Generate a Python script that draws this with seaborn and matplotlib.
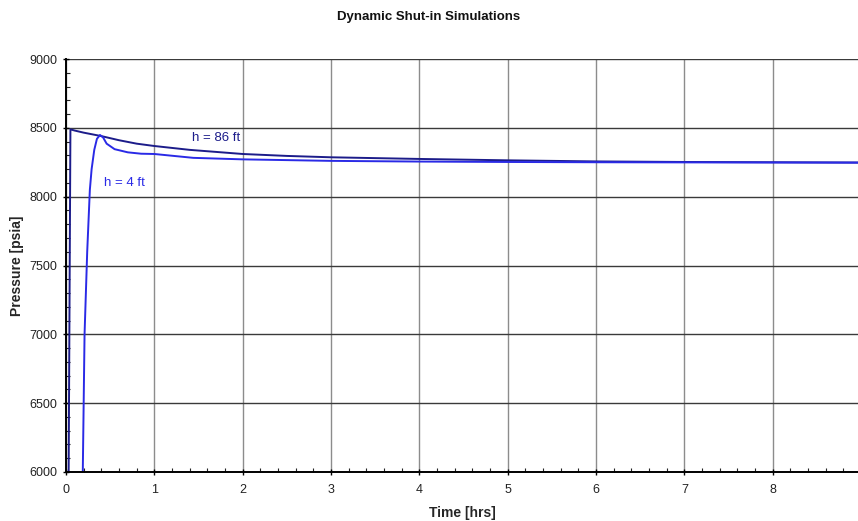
"""
Dynamic shut-in simulations: bottomhole pressure vs time for two pay thicknesses.
"""
import seaborn as sns
import matplotlib.pyplot as plt
from matplotlib.ticker import MultipleLocator

# curve for h = 86 ft
time_86 = [0.03, 0.05, 0.1, 0.2, 0.4, 0.6, 0.8, 1.0, 1.4, 2.0, 2.5, 3.0, 4.0, 5.0, 6.0, 7.0, 8.0, 8.97]
pres_86 = [6000, 8489, 8480, 8465, 8440, 8410, 8385, 8368, 8340, 8310, 8296, 8286, 8274, 8264, 8256, 8252, 8250, 8248]

# curve for h = 4 ft
time_4 = [0.19, 0.21, 0.24, 0.27, 0.29, 0.32, 0.35, 0.385, 0.42, 0.46, 0.55, 0.7, 0.85, 1.0,
          1.44, 2.0, 3.0, 4.0, 5.0, 6.0, 7.0, 8.0, 8.97]
pres_4 = [6000, 7000, 7600, 8050, 8200, 8340, 8420, 8448, 8430, 8385, 8345, 8322, 8312, 8310,
          8282, 8271, 8260, 8255, 8252, 8250, 8249, 8248, 8247]

curve_labels = ["h = 86 ft", "h = 4 ft"]
label_spots = [(1.70, 8428), (0.66, 8100)]
curve_colors = ["#1c1c8a", "#2a2ae6"]

sns.set_style("white")
plt.rcParams['font.family'] = ['Liberation Sans', 'DejaVu Sans']

fig = plt.figure(figsize=(8.58, 5.21), dpi=100)
ax = fig.add_axes([66 / 858, 1 - 472 / 521, 1 - 66 / 858, (472 - 59) / 521])

sns.lineplot(x=time_86, y=pres_86, ax=ax, color=curve_colors[0], linewidth=1.4, sort=False)
sns.lineplot(x=time_4, y=pres_4, ax=ax, color=curve_colors[1], linewidth=1.4, sort=False)

for text, (tx, ty), c in zip(curve_labels, label_spots, curve_colors):
    ax.text(tx, ty, text, color=c, fontsize=9.5, ha="center", va="center")

ax.set_xlim(0, 8.965)
ax.set_ylim(6000, 9000)
ax.xaxis.set_major_locator(MultipleLocator(1))
ax.xaxis.set_minor_locator(MultipleLocator(0.2))
ax.yaxis.set_major_locator(MultipleLocator(500))
ax.yaxis.set_minor_locator(MultipleLocator(100))

# grid: dark horizontals, grey verticals
ax.grid(False)
ax.yaxis.grid(True, which="major", color="#3a3a3a", linewidth=1.0)
ax.xaxis.grid(True, which="major", color="#8c8c8c", linewidth=1.0)
ax.set_axisbelow(True)

ax.tick_params(axis="both", which="major", direction="inout", length=5, width=1,
               color="black", labelsize=9, labelcolor="#222222")
ax.tick_params(axis="both", which="minor", direction="in", length=3, width=0.8, color="#222222")
ax.tick_params(axis="x", which="both", bottom=True)
ax.tick_params(axis="y", which="both", left=True)
ax.tick_params(axis="x", which="major", pad=6)

for side in ["top", "right"]:
    ax.spines[side].set_visible(False)
for side in ["left", "bottom"]:
    ax.spines[side].set_color("black")
    ax.spines[side].set_linewidth(1.4)

ax.set_xlabel("Time [hrs]", fontsize=10, fontweight="bold", labelpad=7)
ax.set_ylabel("Pressure [psia]", fontsize=10, fontweight="bold", labelpad=4)
fig.text(0.5, 1 - 17 / 521, "Dynamic Shut-in Simulations", fontsize=9.5,
         fontweight="bold", ha="center", va="center", color="#111111")

fig.savefig("out.png", dpi=100)
